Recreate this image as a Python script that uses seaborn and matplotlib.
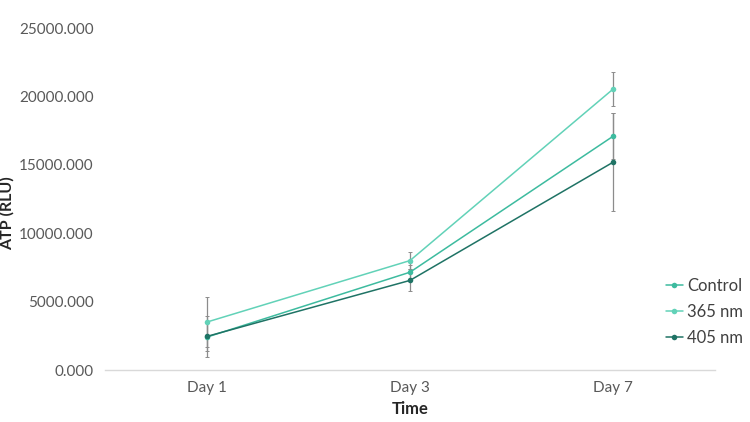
import numpy as np
import pandas as pd
import matplotlib
matplotlib.use('Agg')
import matplotlib.pyplot as plt
import seaborn as sns

# Values
days = ['Day 1', 'Day 3', 'Day 7']
groups = ['Control', '365 nm', '405 nm']
control = [2400, 7150, 17100]
nm365 = [3500, 8000, 20550]
nm405 = [2450, 6550, 15200]
control_err = [1000, 500, 1700]
nm365_err = [1850, 600, 1250]
nm405_err = [1500, 800, 3600]

colors = {'Control': '#3dbb9f', '365 nm': '#62d2b8', '405 nm': '#1f7365'}


def main():
    df = pd.DataFrame({
        'time': days * 3,
        'group': np.repeat(groups, 3),
        'atp': control + nm365 + nm405,
        'err': control_err + nm365_err + nm405_err,
    })

    sns.set_style('white')
    plt.rcParams['font.family'] = ['Lato', 'DejaVu Sans']

    fig = plt.figure(figsize=(7.5, 4.22), dpi=100)
    ax = fig.add_axes([0.14, 0.1232, 0.8133, 0.8104])

    # Error bars first so lines sit on top
    for g in groups:
        sub = df[df['group'] == g]
        ax.errorbar(np.arange(len(days)), sub['atp'], yerr=sub['err'],
                    fmt='none', ecolor='#8c8c8c', elinewidth=0.9,
                    capsize=1.5, capthick=0.7, zorder=1)

    sns.lineplot(data=df, x='time', y='atp', hue='group', palette=colors,
                 marker='o', markersize=4, markeredgewidth=0, linewidth=1.1,
                 ax=ax, zorder=2)

    ax.set_xlim(-0.5, 2.5)
    ax.set_ylim(0, 25000)
    ax.set_yticks(np.arange(0, 25001, 5000))
    ax.set_yticklabels([f'{v:.3f}' for v in np.arange(0, 25001, 5000)])
    ax.tick_params(axis='both', labelsize=11, labelcolor='#595959', length=0, pad=8)

    ax.set_xlabel('Time', fontsize=12, fontweight='bold', color='#262626', labelpad=4)
    ax.set_ylabel('ATP (RLU)', fontsize=11.5, fontweight='bold', color='#262626')
    ax.yaxis.set_label_coords(-0.148, 0.46)

    for side in ['top', 'right', 'left']:
        ax.spines[side].set_visible(False)
    ax.spines['bottom'].set_color('#d9d9d9')
    ax.spines['bottom'].set_linewidth(1.0)

    ax.legend(loc='center left', bbox_to_anchor=(0.868, 0.26),
              bbox_transform=fig.transFigure, frameon=False,
              fontsize=12, handlelength=1.0, handletextpad=0.25,
              labelspacing=0.6, labelcolor='#404040')

    fig.savefig('out.png', dpi=100)


if __name__ == '__main__':
    main()
